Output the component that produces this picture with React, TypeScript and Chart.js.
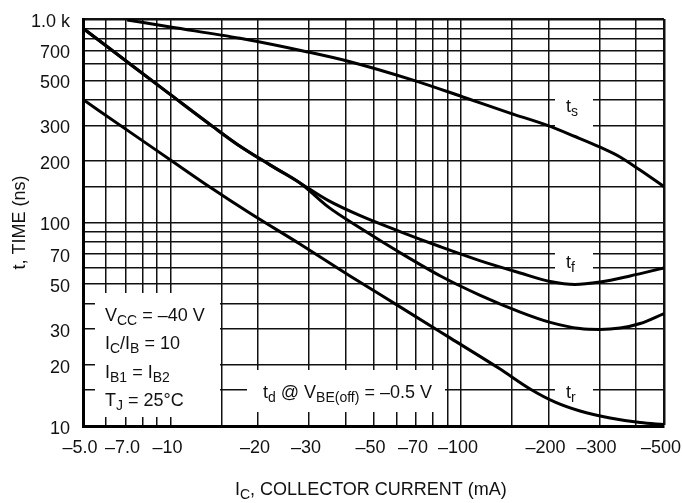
import React, { useEffect, useRef } from 'react';
import { Chart, registerables } from 'chart.js';

Chart.register(...registerables);

const FONT = '"Liberation Sans", Arial, Helvetica, sans-serif';

// Axis grid values and labels (collector current in mA, magnitude; time in ns)
const xGridValues = [5, 6, 7, 8, 9, 10, 15, 20, 30, 40, 50, 60, 70, 80, 90, 100, 150, 200, 300, 400, 500];
const xLabelValues = [5, 7, 10, 20, 30, 50, 70, 100, 200, 300, 500];
const xLabelTexts = ['\u20135.0', '\u20137.0', '\u201310', '\u201320', '\u201330', '\u201350', '\u201370', '\u2013100', '\u2013200', '\u2013300', '\u2013500'];
const yGridValues = [10, 15, 20, 30, 40, 50, 60, 70, 80, 90, 100, 150, 200, 300, 400, 500, 600, 700, 800, 900, 1000];
const yLabelValues = [10, 20, 30, 50, 70, 100, 200, 300, 500, 700, 1000];
const yLabelTexts = ['10', '20', '30', '50', '70', '100', '200', '300', '500', '700', '1.0 k'];

// ts (storage time)
const tsCurrent = [7.1, 10, 17.35, 29.4, 41.5, 68.4, 104.6, 147.5, 197.4, 247, 298.5, 353, 413.5, 500];
const tsTime = [989, 913, 804, 691, 617, 501, 408, 345, 301, 264.6, 236, 210, 181, 150];

// tf (fall time)
const tfCurrent = [5, 7, 10, 14, 17, 22, 28, 35, 45, 62, 85, 116, 160, 203, 247, 301, 382, 500];
const tfTime = [900, 625, 425, 296, 242, 192, 156, 128, 108, 90, 76, 65, 56.5, 51.3, 49.6, 51, 54.6, 59.8];

// tr (rise time)
const trCurrent = [5, 7, 10, 14, 17, 22, 28, 35, 45, 62, 85, 116, 160, 203, 257, 301, 353, 414, 500];
const trTime = [900, 625, 425, 296, 242, 192, 156, 119, 94, 70.8, 54.6, 44, 36.3, 32.3, 30.1, 29.8, 30.3, 31.9, 35.7];

// td (delay time)
const tdCurrent = [5, 7.26, 10, 13.7, 18.8, 27.9, 41.5, 61.7, 91.7, 136, 173, 211, 257, 326, 414, 500];
const tdTime = [402, 278, 203, 149, 111, 78.4, 54.6, 38.5, 27.1, 19.1, 15.2, 13.1, 11.85, 10.95, 10.4, 10.17];

type Part = [string, boolean];

function drawRich(ctx: CanvasRenderingContext2D, x: number, y: number, parts: Part[], size: number, subSize: number, subShift: number) {
  let cx = x;
  for (const [t, sub] of parts) {
    ctx.font = `${sub ? subSize : size}px ${FONT}`;
    ctx.fillText(t, cx, sub ? y + subShift : y);
    cx += ctx.measureText(t).width;
  }
}

const annotationPlugin = {
  id: 'annotations',
  beforeDatasetsDraw(chart: any) {
    const ctx: CanvasRenderingContext2D = chart.ctx;
    const masks = [
      [95, 293, 220, 417],
      [247, 370, 445, 412],
      [555, 90, 593, 133],
      [555, 246, 593, 276],
      [555, 380, 593, 402],
    ];
    ctx.save();
    ctx.fillStyle = '#ffffff';
    for (const [x0, y0, x1, y1] of masks) ctx.fillRect(x0, y0, x1 - x0, y1 - y0);
    ctx.restore();
  },
  afterDraw(chart: any) {
    const ctx: CanvasRenderingContext2D = chart.ctx;
    ctx.save();
    ctx.fillStyle = '#111';
    ctx.textAlign = 'left';
    ctx.textBaseline = 'alphabetic';
    const S = 18, SS = 14, SH = 4;
    drawRich(ctx, 105, 321, [['V', false], ['CC', true], [' = \u201340 V', false]], S, SS, SH);
    drawRich(ctx, 105, 349, [['I', false], ['C', true], ['/I', false], ['B', true], [' = 10', false]], S, SS, SH);
    drawRich(ctx, 105, 378, [['I', false], ['B1', true], [' = I', false], ['B2', true]], S, SS, SH);
    drawRich(ctx, 105, 406, [['T', false], ['J', true], [' = 25\u00B0C', false]], S, SS, SH);
    drawRich(ctx, 263, 398, [['t', false], ['d', true], [' @ V', false], ['BE(off)', true], [' = \u20130.5 V', false]], S, SS, SH);
    drawRich(ctx, 566, 112, [['t', false], ['s', true]], S, SS, SH);
    drawRich(ctx, 566, 268, [['t', false], ['f', true]], S, SS, SH);
    drawRich(ctx, 566, 398, [['t', false], ['r', true]], S, SS, SH);
    drawRich(ctx, 235, 495, [['I', false], ['C', true], [', COLLECTOR CURRENT (mA)', false]], S, SS, SH);
    ctx.restore();
  },
};

const mk = (xs: number[], ys: number[]) => xs.map((x, i) => ({ x, y: ys[i] }));

export default function App() {
  const ref = useRef<HTMLCanvasElement | null>(null);
  useEffect(() => {
    if (!ref.current) return;
    const lineStyle = {
      borderColor: '#000',
      borderWidth: 3,
      pointRadius: 0,
      fill: false,
      cubicInterpolationMode: 'monotone' as const,
    };
    const chart = new Chart(ref.current, {
      type: 'line',
      data: {
        datasets: [
          { label: 'ts', data: mk(tsCurrent, tsTime), ...lineStyle },
          { label: 'tf', data: mk(tfCurrent, tfTime), ...lineStyle },
          { label: 'tr', data: mk(trCurrent, trTime), ...lineStyle },
          { label: 'td', data: mk(tdCurrent, tdTime), ...lineStyle },
        ],
      },
      options: {
        animation: false,
        responsive: false,
        devicePixelRatio: 1,
        layout: { padding: { left: 0, right: 18, top: 19, bottom: 0 } },
        plugins: { legend: { display: false }, tooltip: { enabled: false } },
        scales: {
          x: {
            type: 'logarithmic',
            min: 5,
            max: 500,
            afterBuildTicks: (s: any) => {
              s.ticks = xGridValues.map((v) => ({ value: v }));
            },
            afterFit: (s: any) => {
              s.height = 77;
              s.paddingLeft = 0;
              s.paddingRight = 0;
            },
            ticks: {
              autoSkip: false,
              maxRotation: 0,
              minRotation: 0,
              padding: 11,
              labelOffset: -3,
              color: '#111',
              font: { family: FONT, size: 18 },
              callback: (v: any) => {
                const i = xLabelValues.indexOf(Number(v));
                return i >= 0 ? xLabelTexts[i] : '';
              },
            },
            grid: {
              color: '#111',
              lineWidth: (c: any) => (c.tick && c.tick.value === 500 ? 2.5 : 1.5),
              drawTicks: false,
            },
            border: { display: true, width: 3, color: '#000' },
          },
          y: {
            type: 'logarithmic',
            min: 10,
            max: 1000,
            afterBuildTicks: (s: any) => {
              s.ticks = yGridValues.map((v) => ({ value: v }));
            },
            afterFit: (s: any) => {
              s.width = 83;
              s.paddingTop = 0;
              s.paddingBottom = 0;
            },
            ticks: {
              autoSkip: false,
              padding: 13,
              labelOffset: 3,
              color: '#111',
              font: { family: FONT, size: 18 },
              callback: (v: any) => {
                const i = yLabelValues.indexOf(Number(v));
                return i >= 0 ? yLabelTexts[i] : '';
              },
            },
            grid: {
              color: '#111',
              lineWidth: (c: any) => (c.tick && c.tick.value === 1000 ? 2.5 : 1.5),
              drawTicks: false,
            },
            border: { display: true, width: 3, color: '#000' },
            title: {
              display: true,
              text: 't, TIME (ns)',
              color: '#111',
              font: { family: FONT, size: 18 },
              padding: { top: 9, bottom: 0 },
            },
          },
        },
      },
      plugins: [annotationPlugin],
    } as any);
    return () => chart.destroy();
  }, []);
  return (
    <div style={{ position: 'absolute', left: 0, top: 0, width: 682, height: 503, background: '#fff' }}>
      <canvas ref={ref} width={682} height={503} style={{ display: 'block' }} />
    </div>
  );
}
